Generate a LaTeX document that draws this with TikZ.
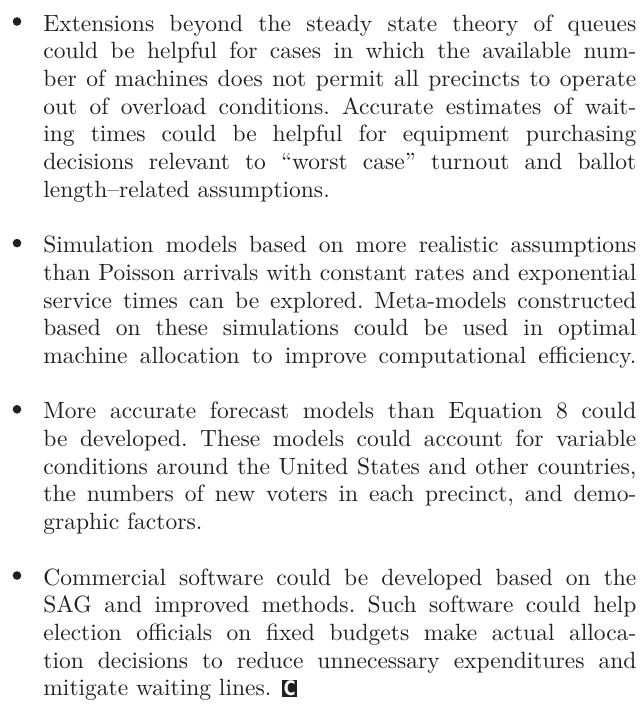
\documentclass[tikz,border=0pt]{standalone}
\usepackage{fontspec}
\setmainfont{lmroman10-regular.otf}[FakeStretch=1.0]
\newfontfamily\logofont{DejaVu Sans}[FakeStretch=0.8]
\definecolor{inkgray}{RGB}{35,31,32}

% text block geometry (pt)
\newcommand\textleft{21.5}
\newcommand\firstbase{15.5}
\newcommand\linepitch{13.85}
\newcommand\justline[1]{{\spaceskip=.3em plus .6em minus .2em\makebox[296.5pt][s]{#1}}}

\tikzset{
  bodyline/.style={anchor=base west, inner sep=0pt, text=inkgray,
    font=\fontsize{11.75}{13.85}\selectfont\frenchspacing},
  bulletdot/.style={circle, fill=inkgray, inner sep=0pt, minimum size=4.3pt},
  endmark/.style={fill=inkgray, text=white, inner sep=0pt,
    minimum width=7.6pt, minimum height=8.8pt, anchor=south west,
    font=\logofont\bfseries\fontsize{10}{10}\selectfont}
}

\begin{document}
\begin{tikzpicture}[x=1pt,y=-1pt]
\useasboundingbox (0,0) rectangle (322,354.5);

% line n sits at baseline firstbase + n*linepitch
\newcommand\at[1]{(\textleft,{\firstbase+\linepitch*#1})}
\newcommand\dotat[1]{(8.5,{\firstbase+\linepitch*#1-4.75})}

% first item
\node[bulletdot] (b1) at \dotat{0} {};
\node[bodyline] (p1l1) at \at{0} {\justline{Extensions beyond the steady state theory of queues}};
\node[bodyline] (p1l2) at \at{1} {\justline{could be helpful for cases in which the available num-}};
\node[bodyline] (p1l3) at \at{2} {\justline{ber of machines does not permit all precincts to operate}};
\node[bodyline] (p1l4) at \at{3} {\justline{out of overload conditions. Accurate estimates of wait-}};
\node[bodyline] (p1l5) at \at{4} {\justline{ing times could be helpful for equipment purchasing}};
\node[bodyline] (p1l6) at \at{5} {\justline{decisions relevant to “worst case” turnout and ballot}};
\node[bodyline] (p1l7) at \at{6} {length–related assumptions.};

% second item
\node[bulletdot] (b2) at \dotat{8} {};
\node[bodyline] (p2l1) at \at{8} {\justline{Simulation models based on more realistic assumptions}};
\node[bodyline] (p2l2) at \at{9} {\justline{than Poisson arrivals with constant rates and exponential}};
\node[bodyline] (p2l3) at \at{10} {\justline{service times can be explored. Meta-models constructed}};
\node[bodyline] (p2l4) at \at{11} {\justline{based on these simulations could be used in optimal}};
\node[bodyline] (p2l5) at \at{12} {\justline{machine allocation to improve computational efficiency.}};

% third item
\node[bulletdot] (b3) at \dotat{14} {};
\node[bodyline] (p3l1) at \at{14} {\justline{More accurate forecast models than Equation 8 could}};
\node[bodyline] (p3l2) at \at{15} {\justline{be developed. These models could account for variable}};
\node[bodyline] (p3l3) at \at{16} {\justline{conditions around the United States and other countries,}};
\node[bodyline] (p3l4) at \at{17} {\justline{the numbers of new voters in each precinct, and demo-}};
\node[bodyline] (p3l5) at \at{18} {graphic factors.};

% fourth item
\node[bulletdot] (b4) at \dotat{20} {};
\node[bodyline] (p4l1) at \at{20} {\justline{Commercial software could be developed based on the}};
\node[bodyline] (p4l2) at \at{21} {\justline{SAG and improved methods. Such software could help}};
\node[bodyline] (p4l3) at \at{22} {\justline{election officials on fixed budgets make actual alloca-}};
\node[bodyline] (p4l4) at \at{23} {\justline{tion decisions to reduce unnecessary expenditures and}};
\node[bodyline] (p4l5) at \at{24} {mitigate waiting lines.};

% end-of-article mark
\node[endmark] (mark) at ([xshift=5pt,yshift=-0.9pt]p4l5.base east) {C};
\end{tikzpicture}
\end{document}
